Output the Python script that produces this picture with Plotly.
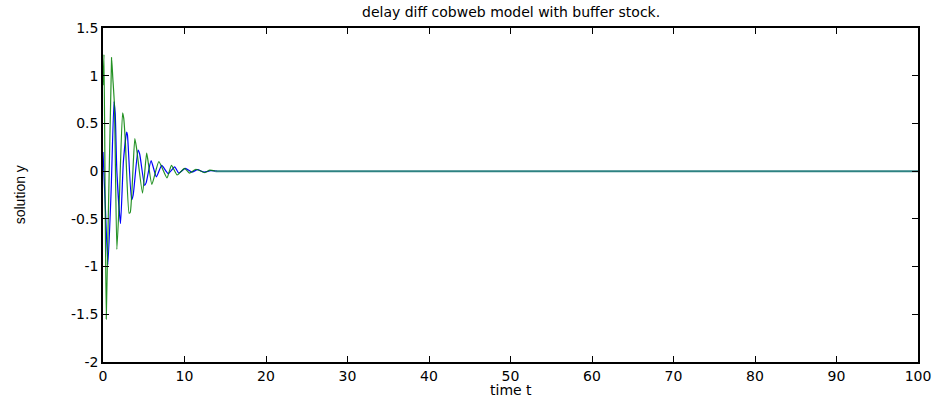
import plotly.graph_objects as go

# ---- data ----
t_blue = [0, 0.3, 0.6, 1.0, 1.35, 1.5, 1.7, 2.15, 2.5, 2.9, 3.0, 3.5, 3.7, 4.3, 4.5,
          5.1, 5.3, 5.9, 6.55, 7.2, 8.0, 8.8, 9.3, 10.1, 10.9, 11.6, 12.4, 13.2, 14.0]
y_blue = [0.2, -0.4, -0.98, -0.2, 0.73, 0.6, 0.0, -0.55, 0.1, 0.41, 0.38, -0.3, -0.25, 0.22, 0.18,
          -0.15, -0.12, 0.11, -0.06, 0.06, -0.025, 0.045, -0.02, 0.03, -0.01, 0.015, -0.01, 0.005, 0.0]

t_green = [0, 0.12, 0.4, 1.05, 1.2, 1.4, 1.7, 2.0, 2.4, 2.55, 2.75, 3.2, 3.35, 3.9, 4.1,
           4.85, 5.35, 5.5, 6.0, 6.85, 7.85, 8.4, 9.1, 10.0, 10.6, 11.4, 12.5, 13.1, 13.8]
y_green = [0.9, 1.22, -1.55, 1.19, 0.98, 0.7, -0.82, -0.3, 0.61, 0.55, 0.3, -0.44, -0.43, 0.34, 0.25,
           -0.23, 0.19, 0.12, -0.14, 0.1, -0.07, 0.06, -0.04, 0.03, -0.02, 0.02, -0.015, 0.01, 0.0]

# both solutions settled at 0 (overlapping lines appear teal)
t_steady = [13.8, 100]
y_steady = [0.0, 0.0]

x_ticks = [0, 10, 20, 30, 40, 50, 60, 70, 80, 90, 100]
x_tick_text = ["0", "10", "20", "30", "40", "50", "60", "70", "80", "90", "100"]
y_ticks = [-2, -1.5, -1, -0.5, 0, 0.5, 1, 1.5]
y_tick_text = ["-2", "-1.5", "-1", "-0.5", "0", "0.5", "1", "1.5"]

title_text = "delay diff cobweb model with buffer stock."
x_label = "time t"
y_label = "solution y"

FONT = "DejaVu Sans, Verdana, sans-serif"

fig = go.Figure()
fig.add_trace(go.Scatter(x=t_blue, y=y_blue, mode="lines",
                         line=dict(color="#0000ff", width=1.2, shape="spline", smoothing=0.5),
                         showlegend=False))
fig.add_trace(go.Scatter(x=t_green, y=y_green, mode="lines",
                         line=dict(color="#008000", width=1.2, shape="spline", smoothing=0.5),
                         opacity=0.85, showlegend=False))
fig.add_trace(go.Scatter(x=t_steady, y=y_steady, mode="lines",
                         line=dict(color="#2e8282", width=2), showlegend=False))

W, H = 943, 399
L, R, T, B = 103, 22, 28, 37
PW, PH = W - L - R, H - T - B

axis_common = dict(showline=True, linecolor="black", linewidth=1.6, mirror="ticks",
                   ticks="inside", ticklen=6, tickwidth=1, tickcolor="black",
                   showgrid=False, zeroline=False,
                   tickfont=dict(family=FONT, size=14, color="black"))

fig.update_layout(
    width=W, height=H,
    margin=dict(l=L, r=R, t=T, b=B),
    paper_bgcolor="white", plot_bgcolor="white",
    xaxis=dict(range=[0, 100], tickvals=x_ticks, ticktext=x_tick_text, **axis_common),
    yaxis=dict(range=[-2, 1.5], tickvals=y_ticks, ticktext=y_tick_text, **axis_common),
    annotations=[
        dict(text=title_text, xref="paper", yref="paper", x=0.5, y=1 + (T - 12) / PH,
             xanchor="center", yanchor="middle", showarrow=False,
             font=dict(family=FONT, size=14, color="black")),
        dict(text=x_label, xref="paper", yref="paper", x=0.5, y=-(390 - (H - B)) / PH,
             xanchor="center", yanchor="middle", showarrow=False,
             font=dict(family=FONT, size=14, color="black")),
        dict(text=y_label, xref="paper", yref="paper", x=(20 - L) / PW, y=0.5,
             xanchor="center", yanchor="middle", showarrow=False, textangle=-90,
             font=dict(family="Liberation Sans Narrow, Liberation Sans, Arial, sans-serif",
                       size=14, color="black")),
    ],
)

fig.write_html("out.html")
